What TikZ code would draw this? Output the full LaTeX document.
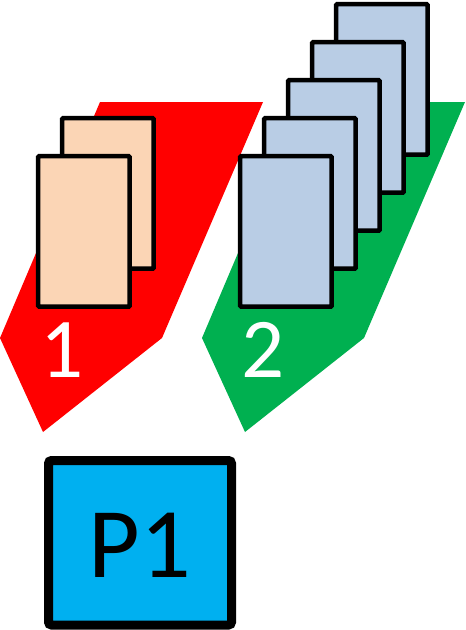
\documentclass[tikz,border=0pt]{standalone}
\usepackage{fontspec}
\setmainfont{Carlito}
\definecolor{redfill}{HTML}{FF0000}
\definecolor{greenfill}{HTML}{00B050}
\definecolor{peach}{HTML}{FBD5B5}
\definecolor{lightblue}{HTML}{B9CDE5}
\definecolor{cyanfill}{HTML}{00B0F0}
\tikzset{
  card/.style={draw=black, line width=4.5pt, rounded corners=1pt},
  peachcard/.style={card, fill=peach},
  bluecard/.style={card, fill=lightblue},
  numlabel/.style={anchor=base, inner sep=0pt, text=white, font=\fontsize{85}{85}\selectfont},
  pbox/.style={draw=black, fill=cyanfill, line width=9pt, rounded corners=3pt}
}
\begin{document}
\begin{tikzpicture}[x=1pt,y=-1pt]
\useasboundingbox (0,0) rectangle (466,630);
% group 1 (red)
\fill[redfill] (100,102) -- (263,102) -- (162,338) -- (43,432) -- (0,338) -- cycle;
\draw[peachcard] (62.2,118.2) rectangle ++(91.5,150.5);
\draw[peachcard] (38.2,156.2) rectangle ++(91.5,150.5);
\node[numlabel] (one) at (62.5,377) {1};
% group 2 (green)
\fill[greenfill] (302,102) -- (465,102) -- (364,338) -- (245,432) -- (202,338) -- cycle;
\draw[bluecard] (336.2,4.2) rectangle ++(91.5,150.5);
\draw[bluecard] (312.2,42.2) rectangle ++(91.5,150.5);
\draw[bluecard] (288.2,80.2) rectangle ++(91.5,150.5);
\draw[bluecard] (264.2,118.2) rectangle ++(91.5,150.5);
\draw[bluecard] (240.2,156.2) rectangle ++(91.5,150.5);
\node[numlabel] (two) at (263.5,377) {2};
% P1 box
\draw[pbox] (48.5,460.5) rectangle (231.5,625);
\node[anchor=base, inner sep=0pt, font=\fontsize{100}{100}\selectfont] (p1) at (140,577) {P1};
\end{tikzpicture}
\end{document}
